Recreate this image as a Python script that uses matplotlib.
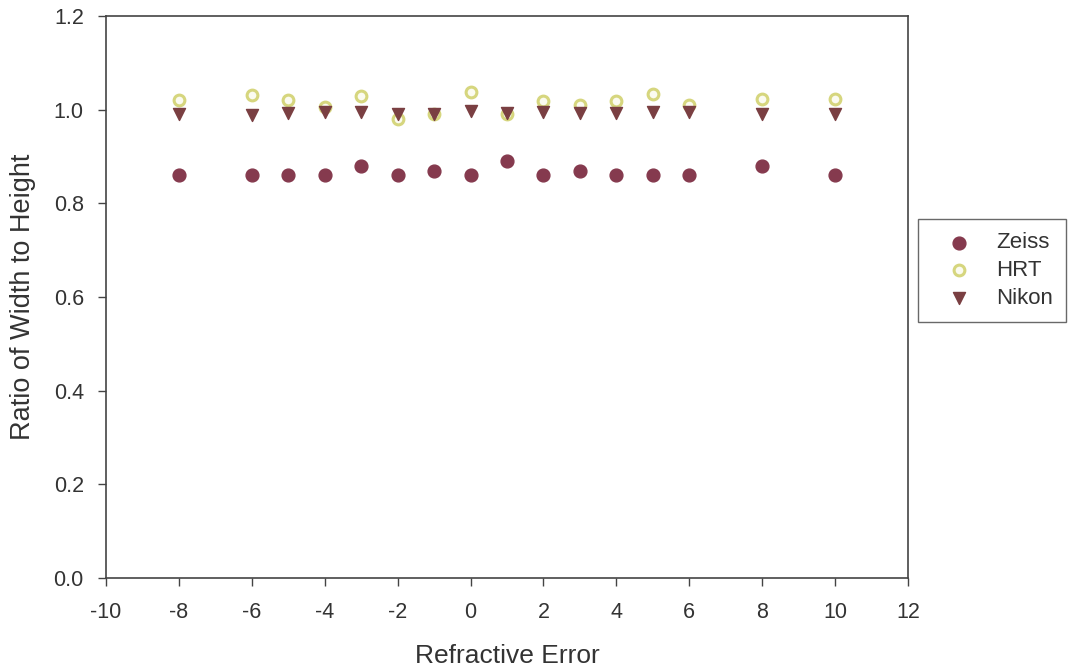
import matplotlib
matplotlib.use("Agg")
import matplotlib.pyplot as plt

refractive_error = [-8, -6, -5, -4, -3, -2, -1, 0, 1, 2, 3, 4, 5, 6, 8, 10]
zeiss = [0.86, 0.86, 0.86, 0.86, 0.88, 0.86, 0.87, 0.86, 0.89, 0.86, 0.87, 0.86, 0.86, 0.86, 0.88, 0.86]
hrt = [1.02, 1.032, 1.02, 1.005, 1.03, 0.98, 0.99, 1.037, 0.99, 1.018, 1.01, 1.018, 1.034, 1.01, 1.023, 1.023]
nikon = [0.99, 0.988, 0.992, 0.996, 0.996, 0.99, 0.99, 0.998, 0.992, 0.996, 0.992, 0.992, 0.994, 0.996, 0.99, 0.99]

x_ticks = [-10, -8, -6, -4, -2, 0, 2, 4, 6, 8, 10, 12]
y_ticks = [0.0, 0.2, 0.4, 0.6, 0.8, 1.0, 1.2]

plt.rcParams['font.family'] = ['Liberation Sans', 'DejaVu Sans']
text_color = '#333333'

fig = plt.figure(figsize=(10.68, 6.72), dpi=100)
ax = fig.add_axes([106/1068, 1 - 578/672, (908-106)/1068, (578-16)/672])

ax.scatter(refractive_error, zeiss, s=85, marker='o', color='#853a4e', edgecolors='#853a4e', label='Zeiss', zorder=3)
ax.scatter(refractive_error, hrt, s=60, marker='o', facecolors='#fbfbf0', edgecolors='#d6d67e', linewidths=2.2, label='HRT', zorder=2)
ax.scatter(refractive_error, nikon, s=75, marker='v', color='#7a3f42', label='Nikon', zorder=4)

ax.set_xlim(-10, 12)
ax.set_ylim(0, 1.2)
ax.set_xticks(x_ticks)
ax.set_xticklabels([str(v) for v in x_ticks])
ax.set_yticks(y_ticks)
ax.set_yticklabels([f"{v:.1f}" for v in y_ticks])
ax.tick_params(direction='out', length=6, width=1, colors='#444444', labelsize=15.5, labelcolor=text_color)
ax.tick_params(axis='x', pad=11)
ax.tick_params(axis='y', pad=10)
for sp in ax.spines.values():
    sp.set_color('#444444')
    sp.set_linewidth(1.2)

ax.set_xlabel('Refractive Error', fontsize=19, color=text_color)
ax.set_ylabel('Ratio of Width to Height', fontsize=19.5, color=text_color)
ax.xaxis.set_label_coords(0.5, -(656 - 578) / 562, transform=ax.transAxes)
ax.xaxis.label.set_va('center')
ax.yaxis.set_label_coords(-(106 - 23) / 802, 0.5, transform=ax.transAxes)
ax.yaxis.label.set_va('center')

leg = fig.legend(loc='upper left', bbox_to_anchor=(918/1068, 1 - 219/672), fontsize=16,
                 frameon=True, fancybox=False, edgecolor='#444444', borderpad=0.6,
                 handletextpad=0.4, labelspacing=0.3, borderaxespad=0, handlelength=2.5)
for t in leg.get_texts():
    t.set_color(text_color)
leg.get_frame().set_linewidth(1.0)

fig.savefig('out.png', dpi=100, facecolor='white')
